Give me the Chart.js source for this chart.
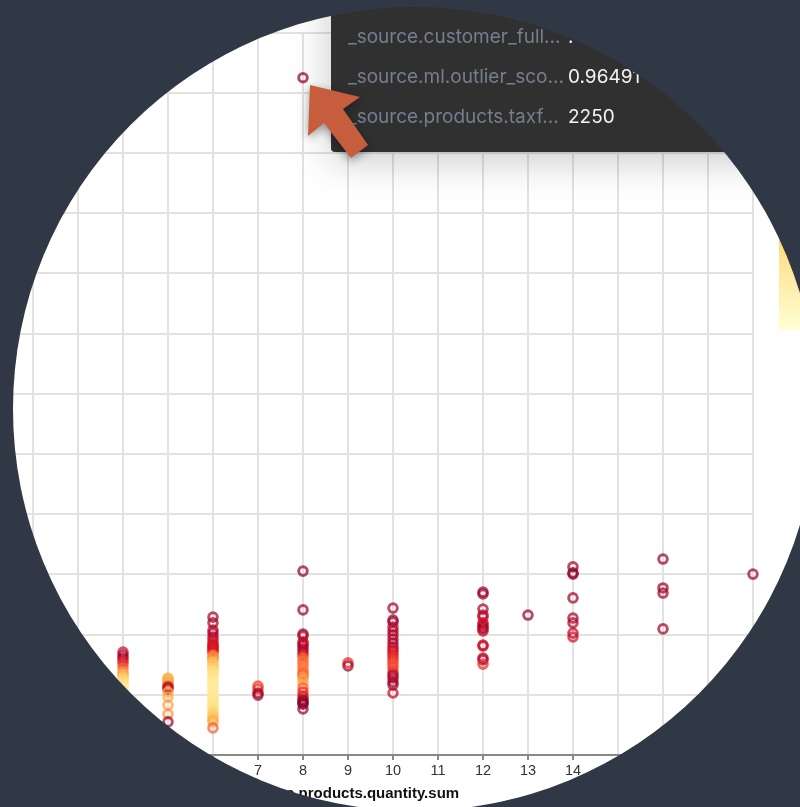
<!DOCTYPE html>
<html>
<head>
<meta charset="utf-8">
<title>Outlier scatterplot</title>
<script src="https://cdn.jsdelivr.net/npm/chart.js@4"></script>
<style>
    html, body { margin: 0; padding: 0; width: 800px; height: 807px; overflow: hidden; background: #fff; }
    #reportChart { position: absolute; left: -200px; top: 0; filter: blur(0.45px); }
    #colorLegend {
        position: absolute; left: 779px; top: 10px; width: 40px; height: 320px;
        background: linear-gradient(to top, #ffffcc, #ffeda0 12.5%, #fed976 25%, #feb24c 37.5%, #fd8d3c 50%, #fc4e2a 62.5%, #e31a1c 75%, #bd0026 87.5%, #800026);
        opacity: 0.85;
    }
    #tooltip {
        position: absolute; left: 331px; top: -20px; width: 520px; height: 172px;
        background: #303030; border-radius: 4px;
        box-shadow: 0 8px 40px rgba(0, 0, 0, 0.22);
        font: 19px Inter, sans-serif;
    }
    #tooltip div { position: absolute; white-space: nowrap; line-height: 20px; }
    #tooltip .key { left: 17px; color: #767e8e; }
    #tooltip .val { left: 237px; color: #f4f4f4; }
    #arrow { position: absolute; left: 0; top: 0; filter: drop-shadow(0 3px 5px rgba(0, 0, 0, 0.4)); }
    #mask {
        position: absolute; left: 13px; top: 7px; width: 804px; height: 804px; border-radius: 50%;
        box-shadow: 0 0 0 1000px #303845;
    }
</style>
</head>
<body>
<canvas id="reportChart" width="1000" height="807"></canvas>
<div id="colorLegend"></div>
<div id="tooltip">
    <div class="key" style="top:47px">_source.customer_full...</div>
    <div class="val" style="top:47px">.</div>
    <div class="key" style="top:87px">_source.ml.outlier_sco...</div>
    <div class="val" style="top:87px">0.96491</div>
    <div class="key" style="top:127px">_source.products.taxf...</div>
    <div class="val" style="top:127px">2250</div>
</div>
<svg id="arrow" width="800" height="807">
    <polygon points="310,85 360,97 343,109 368,145 351,158 324,123 308,136" fill="#c65d3c"></polygon>
</svg>
<div id="mask"></div>
<script>
    // x axis
    const quantityTicks = [0, 18];
    const priceMax = 2400;
    const priceStep = 200;

    // taxful price and outlier score for every order, one pair of lists per quantity
    const prices4 = [342, 332, 322, 312, 302, 289, 276, 269, 262, 256, 249, 243, 236, 229, 223, 216, 209, 203, 196];
    const scores4 = [.85, .9, .95, .8, .7, .6, .5, .42, .35, .3, .25, .22, .2, .18, .15, .15, .15, .15, .15];
    const prices5 = [256, 251, 246, 241, 236, 231, 226, 219, 209, 193, 166, 136, 110];
    const scores5 = [.4, .4, .4, .42, .42, .5, .98, .85, .4, .42, .45, .5, .95];
    const prices6 = [458, 439, 415, 405, 392, 382, 372, 366, 362, 356, 352, 346, 342, 332, 326, 322, 315, 309, 302, 296, 289, 282, 276, 269, 262, 256, 249, 243, 236, 229, 223, 216, 209, 203, 196, 189, 183, 176, 169, 163, 156, 149, 143, 136, 129, 123, 116, 110, 90];
    const scores6 = [.93, .93, .88, .92, .9, .85, .8, .8, .8, .8, .78, .78, .78, .55, .52, .5, .42, .35, .32, .3, .28, .25, .22, .2, .18, .17, .16, .15, .15, .14, .14, .14, .15, .15, .16, .16, .17, .17, .18, .2, .2, .22, .25, .28, .3, .33, .36, .4, .6];
    const prices7 = [229, 219, 206, 199];
    const scores7 = [.68, .7, .9, .95];
    const prices8 = [2250, 611, 482, 402, 395, 375, 369, 362, 352, 342, 332, 322, 312, 302, 292, 282, 272, 266, 259, 249, 236, 223, 209, 196, 186, 179, 173, 169, 153];
    const scores8 = [.9649, .97, .95, .98, .9, .88, .85, .88, .92, .9, .78, .6, .55, .58, .55, .55, .58, .6, .5, .45, .4, .6, .72, .8, .85, 1, .98, .98, .97];
    const prices9 = [306, 296];
    const scores9 = [.72, .93];
    const prices10 = [488, 448, 442, 425, 412, 399, 385, 372, 359, 349, 339, 329, 319, 309, 299, 289, 276, 266, 256, 243, 233, 206];
    const scores10 = [.93, 1, .9, .9, .9, .9, .9, .93, .88, .85, .8, .75, .72, .68, .65, .65, .7, .95, .9, .92, .95, .85];
    const prices12 = [541, 535, 485, 465, 458, 439, 432, 425, 419, 412, 365, 362, 322, 316, 302];
    const scores12 = [.93, .94, .93, .92, .85, .8, .85, .88, .95, .85, .88, .82, .88, .9, .72];
    const prices13 = [465];
    const scores13 = [.96];
    const prices14 = [625, 605, 601, 522, 455, 439, 405, 392];
    const scores14 = [.93, 1, .95, .94, .93, .9, .87, .82];
    const prices16 = [651, 555, 538, 419];
    const scores16 = [.96, .96, .94, .94];
    const prices18 = [601];
    const scores18 = [.94];

    const columns = [
        [4, prices4, scores4], [5, prices5, scores5], [6, prices6, scores6], [7, prices7, scores7],
        [8, prices8, scores8], [9, prices9, scores9], [10, prices10, scores10], [12, prices12, scores12],
        [13, prices13, scores13], [14, prices14, scores14], [16, prices16, scores16], [18, prices18, scores18]
    ];

    // yellow-orange-red ramp used for the score
    const ramp = [[255, 255, 204], [255, 237, 160], [254, 217, 118], [254, 178, 76], [253, 141, 60], [252, 78, 42], [227, 26, 28], [189, 0, 38], [128, 0, 38]];
    function scoreColor(score) {
        const pos = score * (ramp.length - 1);
        const i = Math.min(Math.floor(pos), ramp.length - 2);
        const t = pos - i;
        const c = ramp[i].map((v, k) => Math.round(v + (ramp[i + 1][k] - v) * t));
        return 'rgba(' + c[0] + ', ' + c[1] + ', ' + c[2] + ', 0.7)';
    }

    const points = [];
    const ringColors = [];
    columns.forEach(([quantity, prices, scores]) => {
        prices.forEach((price, i) => {
            points.push({ x: quantity, y: price });
            ringColors.push(scoreColor(scores[i]));
        });
    });

    const ctx = document.getElementById('reportChart').getContext('2d');
    new Chart(ctx, {
        type: 'scatter',
        data: {
            datasets: [{
                data: points,
                borderColor: ringColors,
                backgroundColor: 'rgba(0, 0, 0, 0)',
                pointRadius: 4.3,
                pointBorderWidth: 3,
                clip: false
            }]
        },
        options: {
            responsive: false,
            animation: false,
            layout: { padding: { top: 32.6, right: 47 } },
            plugins: { legend: { display: false }, tooltip: { enabled: false } },
            scales: {
                x: {
                    type: 'linear',
                    min: quantityTicks[0],
                    max: quantityTicks[1],
                    afterFit: (scale) => { scale.height = 52; },
                    grid: { color: '#e2e2e2', lineWidth: 2, tickColor: '#888', tickLength: 5 },
                    border: { color: '#888', width: 2 },
                    ticks: { stepSize: 1, color: '#333', padding: 2, maxRotation: 0, autoSkip: false, font: { family: 'Liberation Sans', size: 14.5 } },
                    title: {
                        display: true,
                        text: '_source.products.quantity.sum',
                        color: '#111',
                        padding: { top: 0, bottom: 4.5 },
                        font: { family: 'Liberation Sans', size: 15, weight: 'bold' }
                    }
                },
                y: {
                    min: 0,
                    max: priceMax,
                    afterFit: (scale) => { scale.width = 143; },
                    grid: { color: '#e2e2e2', lineWidth: 2 },
                    border: { display: false },
                    ticks: { stepSize: priceStep, color: '#333', font: { family: 'Liberation Sans', size: 14 } }
                }
            }
        }
    });
</script>
</body>
</html>
